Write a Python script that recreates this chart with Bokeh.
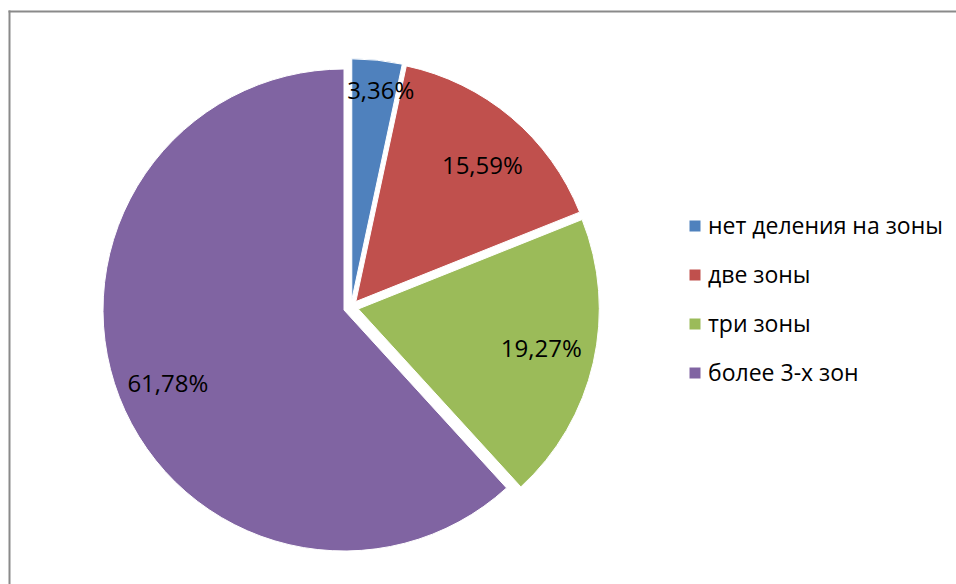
import math
from bokeh.plotting import figure
from bokeh.models import Range1d, Legend, LegendItem, ColumnDataSource
from bokeh.core.properties import value
from bokeh.embed import file_html
from bokeh.resources import INLINE

# ---- data ----
categories = ["нет деления на зоны", "две зоны", "три зоны", "более 3-х зон"]
shares = [3.36, 15.59, 19.27, 61.78]
colors = ["#4F81BD", "#C0504D", "#9BBB59", "#8064A2"]

# ---- layout / style ----
W, H = 956, 584
CX, CY = 350.5, 277.2       # pie centre (px-like data units)
R = 241.0                    # radius
EXPLODE = 7.5                # explosion distance
label_frac = [0.88, 0.775, 0.776, 0.79]
label_shift_deg = [1.8, 2.5, -1.0, -1.1]
FONT = "Open Sans"
BORDER_LEFT, BORDER_TOP = 9, H - 11

total = sum(shares)
starts, ends, xs, ys, lx, ly, texts = [], [], [], [], [], [], []
cum = 0.0
for i, v in enumerate(shares):
    f0 = cum / total
    f1 = (cum + v) / total
    cum += v
    mid = 2 * math.pi * (f0 + f1) / 2          # clockwise from top
    sx = CX + EXPLODE * math.sin(mid)
    sy = CY + EXPLODE * math.cos(mid)
    starts.append(math.pi / 2 - 2 * math.pi * f0)
    ends.append(math.pi / 2 - 2 * math.pi * f1)
    xs.append(sx)
    ys.append(sy)
    la = mid + math.radians(label_shift_deg[i])
    lx.append(sx + label_frac[i] * R * math.sin(la))
    ly.append(sy + label_frac[i] * R * math.cos(la))
    texts.append(f"{v:.2f}%".replace(".", ","))

src = ColumnDataSource(dict(x=xs, y=ys, start=starts, end=ends, color=colors,
                            cat=categories, lx=lx, ly=ly, text=texts))

p = figure(width=W, height=H, x_range=Range1d(0, W), y_range=Range1d(0, H),
           output_backend="svg", toolbar_location=None, min_border=0)
p.axis.visible = False
p.grid.visible = False
p.outline_line_color = None
p.background_fill_color = "white"
p.border_fill_color = "white"

# chart-area border (only left and top edges fall inside the window)
p.segment(x0=[BORDER_LEFT, BORDER_LEFT], y0=[BORDER_TOP, BORDER_TOP],
          x1=[BORDER_LEFT, W + 10], y1=[-10, BORDER_TOP],
          line_color="#8a8a8a", line_width=2, line_cap="square")

r = p.wedge(x="x", y="y", radius=R, start_angle="start", end_angle="end",
            direction="clock", fill_color="color", line_color="white",
            line_width=1, source=src)

p.text(x="lx", y="ly", text="text", source=src, text_align="center",
       text_baseline="middle", text_font=value(FONT), text_font_size="24px",
       text_color="#000000")

items = [LegendItem(label=c, renderers=[r], index=i) for i, c in enumerate(categories)]
legend = Legend(items=items, location=(687, 196), orientation="vertical",
                glyph_width=15, glyph_height=15, label_standoff=6,
                label_text_font=FONT, label_text_font_size="23px",
                label_text_color="#000000", label_height=32, spacing=17,
                padding=0, margin=0, border_line_color=None,
                background_fill_alpha=0)
p.add_layout(legend, "center")

open("out.html", "w").write(file_html(p, INLINE))
